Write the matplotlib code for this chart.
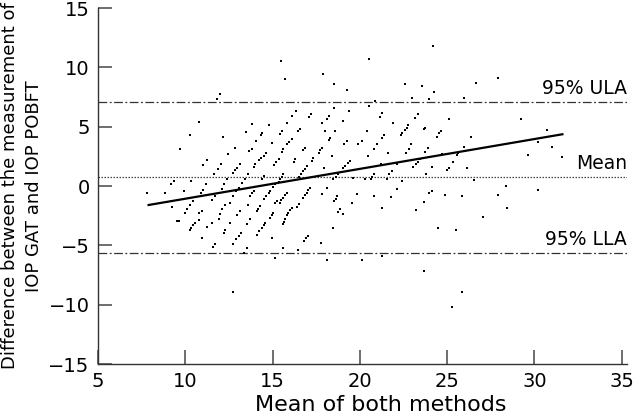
import numpy as np
import matplotlib
matplotlib.use("Agg")
import matplotlib.pyplot as plt

# Bland-Altman data: (mean of both methods, difference)
mean_both = [
    12.00, 11.81, 10.80,
    15.47, 15.70, 17.91, 18.52, 19.25, 20.54, 20.53, 16.35, 16.12, 17.21, 17.07, 18.54, 19.40, 18.22, 18.09, 17.84, 19.02, 15.82, 14.77, 13.82,
    24.21, 22.59, 23.54, 26.65, 24.25, 23.00, 23.98, 25.98, 20.87, 21.29, 21.16, 21.92, 23.31, 23.16, 25.10, 22.78,
    27.92, 29.20,
    10.29, 12.16, 13.45, 9.67, 12.86, 13.66, 12.44, 11.24, 11.01, 12.04, 11.85, 11.62, 12.96, 12.86, 12.76, 13.15, 13.62, 9.33, 9.18, 8.84,
    7.81, 9.90, 10.33, 11.20, 11.01, 10.90, 12.39, 12.23, 12.10, 11.72, 11.53, 9.24, 10.10, 10.25, 10.47, 10.76, 10.96, 10.00, 9.52, 10.76,
    11.96, 12.10, 12.25, 12.76, 12.92, 13.05, 13.24, 13.43, 12.57, 12.96, 13.15, 13.57, 11.91,
    14.42, 14.33, 15.53, 15.44, 16.58, 16.48, 18.01, 18.58, 18.30, 18.22, 19.25, 19.11, 20.11, 19.92, 20.39, 14.06, 14.96, 16.10, 15.96, 15.82,
    16.87, 16.77, 17.82, 17.72, 17.63, 14.63, 14.50, 14.35, 14.25, 15.62, 15.53, 13.82, 15.34, 15.21, 15.09, 16.29, 16.20, 17.25, 17.34, 18.43,
    19.44, 19.31, 19.15, 19.06, 20.49, 17.96, 18.77, 18.64, 18.48, 16.96, 16.87, 16.77, 16.62, 16.54, 15.62, 15.53, 15.44, 15.34, 14.48, 14.39,
    14.01, 13.91, 15.15, 15.05, 19.63, 20.30, 13.91, 13.82, 13.72, 14.86, 14.77, 14.63, 14.52, 15.82, 15.72, 15.59, 15.48, 15.40, 17.15, 17.05,
    16.96, 16.87, 16.77, 17.82, 18.11, 18.71, 18.64, 18.52, 14.29, 14.19, 14.10, 15.25, 15.15, 15.05, 14.96, 14.86, 16.10, 16.01, 15.91, 15.82,
    15.72, 16.54, 16.42, 19.53, 19.82, 18.87, 18.77, 19.06, 13.72,
    22.68, 22.59, 23.73, 23.67, 21.38, 21.29, 22.44, 22.35, 24.63, 24.53, 24.40, 26.36, 20.97, 20.81, 22.95, 22.83, 23.73, 23.92, 21.63, 22.63,
    24.68, 25.64, 25.58, 25.96, 23.44, 23.31, 23.21, 23.03, 24.11, 25.31, 25.12, 24.97, 26.12, 21.20, 22.15, 21.82, 21.69, 21.54, 20.81, 20.72,
    20.64, 23.79, 22.40, 26.55, 22.11, 24.11, 23.98, 20.81, 21.77, 24.87, 25.83, 23.67, 21.29, 23.21, 27.03,
    30.73, 30.21, 31.01, 29.61, 31.58, 28.35, 27.92, 30.18, 28.40,
    9.62, 10.57, 10.47, 10.33, 10.25, 11.53, 11.24, 12.57, 12.29, 12.19, 10.96, 11.72, 11.59, 13.53, 13.19, 13.05, 12.92, 12.76, 13.53, 13.39,
    12.71,
    14.58, 14.48, 14.39, 14.25, 14.10, 15.57, 15.68, 14.96, 15.57, 15.15, 17.00, 16.92, 16.81, 16.48, 17.78, 18.45, 18.14, 20.11,
    24.50, 25.49, 21.25, 23.69, 25.83, 25.29,
]
difference = [
    7.73, 7.30, 5.39,
    10.53, 9.04, 9.40, 8.62, 8.06, 10.67, 6.74, 6.32, 5.90, 6.04, 5.84, 6.60, 6.32, 5.90, 5.62, 5.28, 5.48, 5.28, 5.14, 5.20,
    11.79, 8.57, 8.42, 8.65, 7.92, 7.44, 7.35, 7.39, 7.16, 6.18, 5.84, 5.28, 6.04, 5.70, 5.67, 5.11,
    9.12, 5.62,
    4.30, 4.13, 4.55, 3.09, 3.23, 2.95, 2.72, 2.19, 1.74, 1.83, 1.41, 0.99, 1.54, 1.32, 1.12, 1.83, 0.99, 0.42, 0.14, -0.56,
    -0.56, -0.42, 0.42, 0.14, -0.36, -0.56, 0.56, 0.14, -0.28, -0.84, -1.18, -1.74, -1.91, -1.60, -1.26, -2.30, -2.11, -2.30, -2.95, -2.86,
    -2.39, -1.96, -1.63, -0.84, -0.42, -0.14, 0.28, 0.56, -1.40, -2.47, -2.11, -1.63, -2.81,
    4.49, 4.27, 4.63, 4.36, 4.78, 4.63, 4.63, 4.63, 4.07, 3.88, 3.79, 3.51, 3.79, 3.51, 4.63, 3.79, 3.65, 3.93, 3.71, 3.51,
    3.23, 3.03, 3.23, 3.03, 2.81, 2.81, 2.53, 2.33, 2.17, 3.09, 2.86, 3.09, 2.25, 2.02, 1.77, 2.25, 2.02, 2.11, 2.33, 2.53,
    2.11, 1.91, 1.68, 1.49, 2.53, 1.49, 0.99, 0.78, 0.56, 1.68, 1.46, 1.26, 0.99, 0.78, 0.99, 0.78, 0.56, 0.34, 0.84, 0.62,
    1.83, 1.63, 0.14, -0.06, 0.70, 0.56, -0.42, -0.62, -0.84, -0.42, -0.62, -0.84, -1.07, -0.56, -0.76, -0.99, -1.18, -1.40, -0.14, -0.36,
    -0.56, -0.78, -0.99, -0.70, -0.14, -0.84, -1.07, -1.26, -1.68, -1.91, -2.11, -1.26, -1.46, -2.25, -2.47, -2.67, -1.83, -2.02, -2.25, -2.47,
    -2.81, -1.54, -1.74, -1.40, -0.70, -1.96, -2.19, -2.39, -2.81,
    4.91, 4.72, 4.91, 4.78, 4.27, 4.07, 4.44, 4.27, 4.63, 4.44, 4.15, 4.15, 3.51, 3.14, 3.51, 3.09, 2.86, 3.18, 2.75, 2.75,
    2.67, 2.75, 2.59, 3.31, 2.25, 2.05, 1.83, 1.63, 1.63, 2.05, 1.54, 1.35, 1.49, 1.83, 1.83, 1.26, 0.99, 0.62, 0.99, 0.78,
    0.62, 0.99, 0.42, 0.48, -0.28, -0.42, -0.62, -0.84, -0.90, -0.76, -0.84, -1.32, -1.88, -2.05, -2.58,
    4.72, 3.73, 3.26, 2.59, 2.44, 0.00, -0.76, -0.36, -1.88,
    -2.95, -3.09, -3.29, -3.56, -3.73, -3.09, -3.45, -3.09, -3.73, -3.93, -4.36, -4.86, -5.14, -3.23, -3.93, -4.21, -4.49, -4.91, -5.20, -5.62,
    -8.93,
    -3.09, -3.29, -3.56, -3.79, -4.15, -3.23, -3.01, -4.36, -5.25, -6.09, -4.21, -4.41, -4.63, -5.42, -4.80, -3.56, -6.26, -6.26,
    -3.56, -3.73, -5.90, -7.16, -8.93, -10.17,
]

mean_diff = 0.72
upper_loa = 7.05
lower_loa = -5.62
# regression line ends, as drawn
fit_x = [7.9, 31.6]
fit_y = [-1.6, 4.36]

plt.rcParams['font.family'] = 'DejaVu Sans'
fig = plt.figure(figsize=(6.4, 4.16), dpi=100)
ax = fig.add_axes([98/640, 1 - 364/416, (627 - 98)/640, (364 - 8)/416])

ax.scatter(mean_both, difference, s=4, marker='s', color='black', linewidths=0, zorder=3)
ax.plot(fit_x, fit_y, color='black', lw=1.6, zorder=4)

ax.axhline(upper_loa, color='#333333', lw=0.9, dashes=(7, 2, 1.5, 2))
ax.axhline(lower_loa, color='#333333', lw=0.9, dashes=(7, 2, 1.5, 2))
ax.axhline(mean_diff, color='#444444', lw=0.9, dashes=(1.2, 1.2))

ax.text(35.3, upper_loa + 0.35, '95% ULA', ha='right', va='bottom', fontsize=13.5)
ax.text(35.3, mean_diff + 0.35, 'Mean', ha='right', va='bottom', fontsize=13.5)
ax.text(35.3, lower_loa + 0.35, '95% LLA', ha='right', va='bottom', fontsize=13.5)

ax.set_xlim(5, 35.3)
ax.set_ylim(-15, 15)
ax.set_xticks(np.arange(5, 36, 5))
ax.set_yticks(np.arange(-15, 16, 5))
ax.set_yticklabels(['\u221215', '\u221210', '\u22125', '0', '5', '10', '15'])
ax.tick_params(direction='in', length=10, width=1.2, color='#555555', labelsize=14, pad=6)
for s in ['top', 'right']:
    ax.spines[s].set_visible(False)
for s in ['left', 'bottom']:
    ax.spines[s].set_linewidth(1.0)
    ax.spines[s].set_color('#333333')

fig.text(381/640, 1 - 405/416, 'Mean of both methods', ha='center', va='center', fontsize=16)
fig.text(22/640, 1 - 186/416, 'Difference between the measurement of\nIOP GAT and IOP POBFT',
         ha='center', va='center', rotation=90, fontsize=13, linespacing=1.4, multialignment='center')

fig.savefig('out.png', dpi=100)
